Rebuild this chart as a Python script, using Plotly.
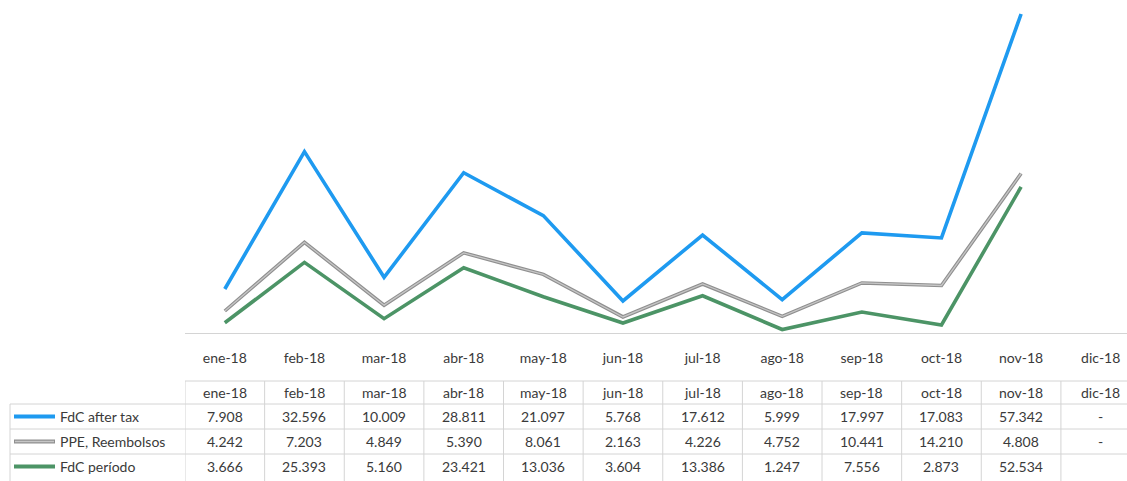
import plotly.graph_objects as go

# Monthly cash-flow figures (thousands); None = no data for the month
months = ["ene-18", "feb-18", "mar-18", "abr-18", "may-18", "jun-18",
          "jul-18", "ago-18", "sep-18", "oct-18", "nov-18", "dic-18"]
fdc_after_tax = [7908, 32596, 10009, 28811, 21097, 5768, 17612, 5999, 17997, 17083, 57342, None]
ppe_reembolsos = [4242, 7203, 4849, 5390, 8061, 2163, 4226, 4752, 10441, 14210, 4808, None]
fdc_periodo = [3666, 25393, 5160, 23421, 13036, 3604, 13386, 1247, 7556, 2873, 52534, None]

row_names = ["FdC after tax", "PPE, Reembolsos", "FdC período"]
row_values = [fdc_after_tax, ppe_reembolsos, fdc_periodo]
row_blank = ["-", "-", ""]

BLUE = "#1e9af0"
GRAY = "#8f8f8f"
GRAY_HI = "#c6c6c6"
GREEN = "#4c9466"
row_colors = [BLUE, GRAY, GREEN]

TEXT = "#3a3a3a"
GRID = "#d4d4d4"
FONT = "Lato"

W, H = 1127, 481


def px_x(p):
    return p / W


def px_y(p):
    return 1 - p / H


def present(vals):
    xs = [m for m, v in zip(months, vals) if v is not None]
    ys = [v for v in vals if v is not None]
    return xs, ys


def fmt(v):
    return f"{v:,}".replace(",", ".")


fig = go.Figure()

# Stacked lines: período at the bottom, then PPE, then after-tax on top
for vals, color, name in [(fdc_periodo, GREEN, row_names[2]),
                          (ppe_reembolsos, GRAY, row_names[1]),
                          (fdc_after_tax, BLUE, row_names[0])]:
    xs, ys = present(vals)
    fig.add_trace(go.Scatter(
        x=xs, y=ys, name=name, mode="lines", stackgroup="main", fill="none",
        line=dict(color=color, width=3.6), hoverinfo="skip", showlegend=False,
    ))

# Lighter core of the gray line (same stacking, separate group)
xs, ys = present(fdc_periodo)
fig.add_trace(go.Scatter(x=xs, y=ys, mode="lines", stackgroup="core", fill="none",
                         line=dict(width=0, color="rgba(0,0,0,0)"),
                         hoverinfo="skip", showlegend=False))
xs, ys = present(ppe_reembolsos)
fig.add_trace(go.Scatter(x=xs, y=ys, mode="lines", stackgroup="core", fill="none",
                         line=dict(width=1.3, color=GRAY_HI),
                         hoverinfo="skip", showlegend=False))

stack_peak = max(a + b + c for a, b, c in zip(fdc_after_tax[:11], ppe_reembolsos[:11], fdc_periodo[:11]))

shapes = []
annotations = []

# Table grid
line_style = dict(color=GRID, width=1)
shapes.append(dict(type="line", xref="paper", yref="paper",
                   x0=px_x(185), x1=1, y0=px_y(381), y1=px_y(381), line=line_style))
for yy in [404, 429, 454]:
    shapes.append(dict(type="line", xref="paper", yref="paper",
                       x0=px_x(10), x1=1, y0=px_y(yy), y1=px_y(yy), line=line_style))
shapes.append(dict(type="line", xref="paper", yref="paper",
                   x0=px_x(10), x1=px_x(10), y0=px_y(404), y1=0, line=line_style))
for i in range(len(months)):
    shapes.append(dict(type="line", xref="x", yref="paper",
                       x0=i - 0.5, x1=i - 0.5, y0=px_y(381), y1=0, line=line_style))

# Header row of the table
for m in months:
    annotations.append(dict(x=m, xref="x", y=px_y(392.5), yref="paper", text=m,
                            showarrow=False, xanchor="center", yanchor="middle",
                            font=dict(family=FONT, size=14, color=TEXT)))

# Data rows with legend keys
row_centers = [416.5, 441.5, 466.5]
for name, vals, blank, color, yc in zip(row_names, row_values, row_blank, row_colors, row_centers):
    shapes.append(dict(type="line", xref="paper", yref="paper",
                       x0=px_x(14), x1=px_x(55), y0=px_y(yc), y1=px_y(yc),
                       line=dict(color=color, width=4)))
    if color == GRAY:
        shapes.append(dict(type="line", xref="paper", yref="paper",
                           x0=px_x(15), x1=px_x(54), y0=px_y(yc), y1=px_y(yc),
                           line=dict(color=GRAY_HI, width=1.5)))
    annotations.append(dict(x=px_x(58), xref="paper", y=px_y(yc), yref="paper", text=name,
                            showarrow=False, xanchor="left", yanchor="middle",
                            font=dict(family=FONT, size=14, color=TEXT)))
    for m, v in zip(months, vals):
        annotations.append(dict(x=m, xref="x", y=px_y(yc), yref="paper",
                                text=fmt(v) if v is not None else blank,
                                showarrow=False, xanchor="center", yanchor="middle",
                                font=dict(family=FONT, size=14, color=TEXT)))

fig.update_layout(
    width=W, height=H,
    margin=dict(l=0, r=0, t=0, b=0),
    paper_bgcolor="white", plot_bgcolor="white",
    showlegend=False,
    xaxis=dict(
        type="category", categoryorder="array", categoryarray=months,
        domain=[px_x(185), 1], range=[-0.5, 11.33],
        showgrid=False, zeroline=False, showline=True, linecolor=GRID, linewidth=1,
        ticks="", ticklabelstandoff=12,
        tickfont=dict(family=FONT, size=14, color=TEXT),
    ),
    yaxis=dict(
        domain=[px_y(333), px_y(3)],
        range=[0, stack_peak * 330 / 319],
        visible=False, showgrid=False, zeroline=False,
    ),
    shapes=shapes,
    annotations=annotations,
)

fig.write_html("out.html")
